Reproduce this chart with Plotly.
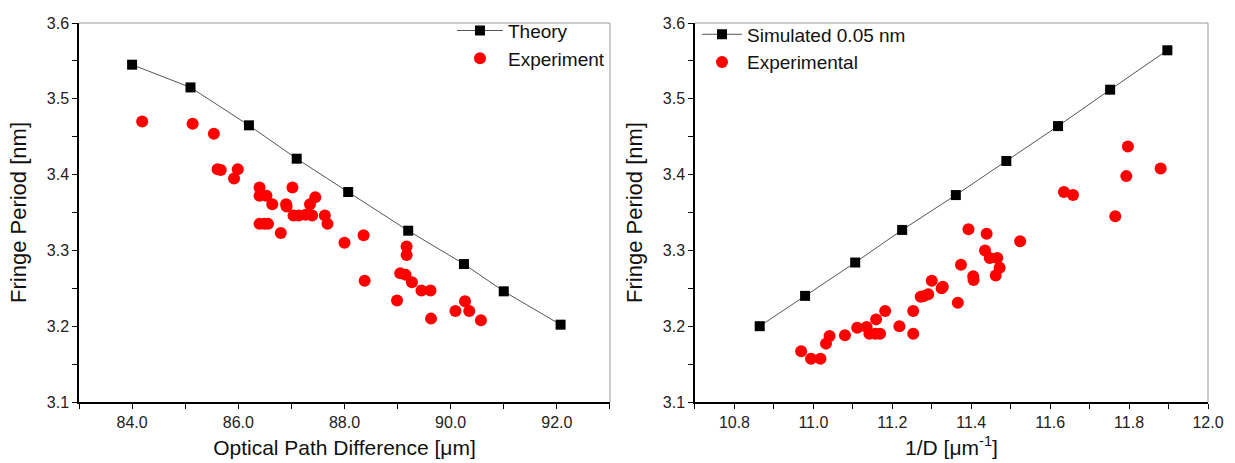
import plotly.graph_objects as go

# ---------------- Left panel data ----------------
opd_theory = [84.0, 85.1, 86.2, 87.1, 88.07, 89.2, 90.25, 91.0, 92.07]
fp_theory = [3.545, 3.515, 3.465, 3.421, 3.377, 3.326, 3.282, 3.246, 3.202]

opd_exp = [84.19, 85.14, 85.54, 85.61, 85.67, 85.99, 85.92,
           86.40, 87.02, 86.40, 86.53, 87.45, 86.64, 86.90, 86.91, 87.35,
           87.04, 87.14, 87.27, 87.39, 87.63, 87.68, 86.40, 86.49, 86.56,
           86.80, 88.00, 88.36, 89.17, 89.17, 89.05, 89.15, 89.27, 89.45,
           89.62, 88.38, 88.99, 90.27, 90.09, 90.35, 89.63, 90.57]
fp_exp = [3.470, 3.467, 3.454, 3.407, 3.406, 3.407, 3.395,
          3.383, 3.383, 3.372, 3.372, 3.370, 3.361, 3.361, 3.358, 3.361,
          3.346, 3.346, 3.347, 3.346, 3.346, 3.335, 3.335, 3.335, 3.335,
          3.323, 3.310, 3.320, 3.305, 3.294, 3.270, 3.268, 3.258, 3.247,
          3.247, 3.260, 3.234, 3.233, 3.220, 3.220, 3.210, 3.208]

# ---------------- Right panel data ----------------
invd_sim = [10.864, 10.979, 11.106, 11.225, 11.361, 11.489, 11.620, 11.752, 11.897]
fp_sim = [3.200, 3.240, 3.284, 3.327, 3.373, 3.418, 3.464, 3.512, 3.564]

invd_exp = [10.969, 10.994, 11.018, 11.032, 11.041, 11.080, 11.111, 11.135,
            11.142, 11.159, 11.157, 11.169, 11.182, 11.218, 11.253, 11.253,
            11.272, 11.281, 11.291, 11.300, 11.325, 11.328, 11.366, 11.374,
            11.393, 11.405, 11.406, 11.435, 11.439, 11.447, 11.466, 11.472,
            11.462, 11.524, 11.635, 11.658, 11.765, 11.797, 11.793, 11.880]
fp_exp2 = [3.167, 3.157, 3.157, 3.177, 3.187, 3.188, 3.198, 3.199,
           3.190, 3.209, 3.190, 3.190, 3.220, 3.200, 3.220, 3.190,
           3.239, 3.240, 3.242, 3.260, 3.250, 3.252, 3.231, 3.281,
           3.328, 3.266, 3.261, 3.300, 3.322, 3.290, 3.290, 3.277,
           3.267, 3.312, 3.377, 3.373, 3.345, 3.437, 3.398, 3.408]

FONT = "Liberation Sans, Arial, sans-serif"
RED = "#ff0000"

fig = go.Figure()

fig.add_trace(go.Scatter(
    x=opd_theory, y=fp_theory, mode="lines+markers", name="Theory",
    line=dict(color="#555555", width=1),
    marker=dict(symbol="square", size=10, color="black"),
    xaxis="x", yaxis="y", legend="legend"))
fig.add_trace(go.Scatter(
    x=opd_exp, y=fp_exp, mode="markers", name="Experiment",
    marker=dict(symbol="circle", size=12, color=RED, line=dict(width=0)),
    xaxis="x", yaxis="y", legend="legend"))

fig.add_trace(go.Scatter(
    x=invd_sim, y=fp_sim, mode="lines+markers", name="Simulated 0.05 nm",
    line=dict(color="#555555", width=1),
    marker=dict(symbol="square", size=10, color="black"),
    xaxis="x2", yaxis="y2", legend="legend2"))
fig.add_trace(go.Scatter(
    x=invd_exp, y=fp_exp2, mode="markers", name="Experimental",
    marker=dict(symbol="circle", size=12, color=RED, line=dict(width=0)),
    xaxis="x2", yaxis="y2", legend="legend2"))

common_axis = dict(
    showline=True, linecolor="black", linewidth=1.5,
    ticks="outside", ticklen=5, tickwidth=1.2, tickcolor="black",
    showgrid=False, zeroline=False, automargin=False,
    tickfont=dict(family=FONT, size=16, color="#222222"),
    tickformat=".1f",
)
title_font = dict(family=FONT, size=22, color="#111111")

fig.update_layout(
    width=1235, height=463,
    margin=dict(l=79, r=27, t=15, b=61),
    paper_bgcolor="white", plot_bgcolor="white",
    font=dict(family=FONT),
    showlegend=True,
    xaxis=dict(common_axis, domain=[0, 0.4703], range=[83, 93],
               tick0=84, dtick=2,
               minor=dict(tick0=83, dtick=1, ticks="outside", ticklen=5,
                          tickcolor="black"),
               title=dict(text="Optical Path Difference [μm]",
                          font=dict(title_font, size=21), standoff=10),
               anchor="y"),
    yaxis=dict(common_axis, domain=[0, 1], range=[3.1, 3.6],
               tick0=3.1, dtick=0.1,
               minor=dict(tick0=3.1, dtick=0.05, ticks="outside", ticklen=5,
                          tickcolor="black"),
               title=dict(text="Fringe Period [nm]", font=title_font,
                          standoff=14),
               anchor="x"),
    xaxis2=dict(common_axis, domain=[0.5456, 1], range=[10.7, 12.0],
                tick0=10.8, dtick=0.2,
                minor=dict(tick0=10.7, dtick=0.1, ticks="outside", ticklen=5,
                           tickcolor="black"),
                title=dict(text="1/D [μm<sup>-1</sup>]",
                           font=dict(title_font, size=21), standoff=10),
                anchor="y2"),
    yaxis2=dict(common_axis, domain=[0, 1], range=[3.1, 3.6],
                tick0=3.1, dtick=0.1,
                minor=dict(tick0=3.1, dtick=0.05, ticks="outside", ticklen=5,
                           tickcolor="black"),
                title=dict(text="Fringe Period [nm]", font=title_font,
                           standoff=14),
                anchor="x2"),
    legend=dict(x=0.4703, xanchor="right", y=1.03, yanchor="top",
                bgcolor="rgba(0,0,0,0)", itemwidth=46,
                font=dict(family=FONT, size=19, color="#111111"),
                tracegroupgap=0),
    legend2=dict(x=0.5474, xanchor="left", y=1.02, yanchor="top",
                 bgcolor="rgba(0,0,0,0)", itemwidth=40,
                 font=dict(family=FONT, size=19, color="#111111"),
                 tracegroupgap=0),
)

# light grey top / right frame lines
for xr, yr in (("x", "y"), ("x2", "y2")):
    fig.add_shape(type="line", xref=f"{xr} domain", yref=f"{yr} domain",
                  x0=0, x1=1, y0=1, y1=1,
                  line=dict(color="#9a9a9a", width=1))
    fig.add_shape(type="line", xref=f"{xr} domain", yref=f"{yr} domain",
                  x0=1, x1=1, y0=0, y1=1,
                  line=dict(color="#9a9a9a", width=1))

fig.write_html("out.html",
               config={"displayModeBar": False},
               post_script="document.body.style.margin='0';"
                           "document.body.style.overflow='hidden';")
